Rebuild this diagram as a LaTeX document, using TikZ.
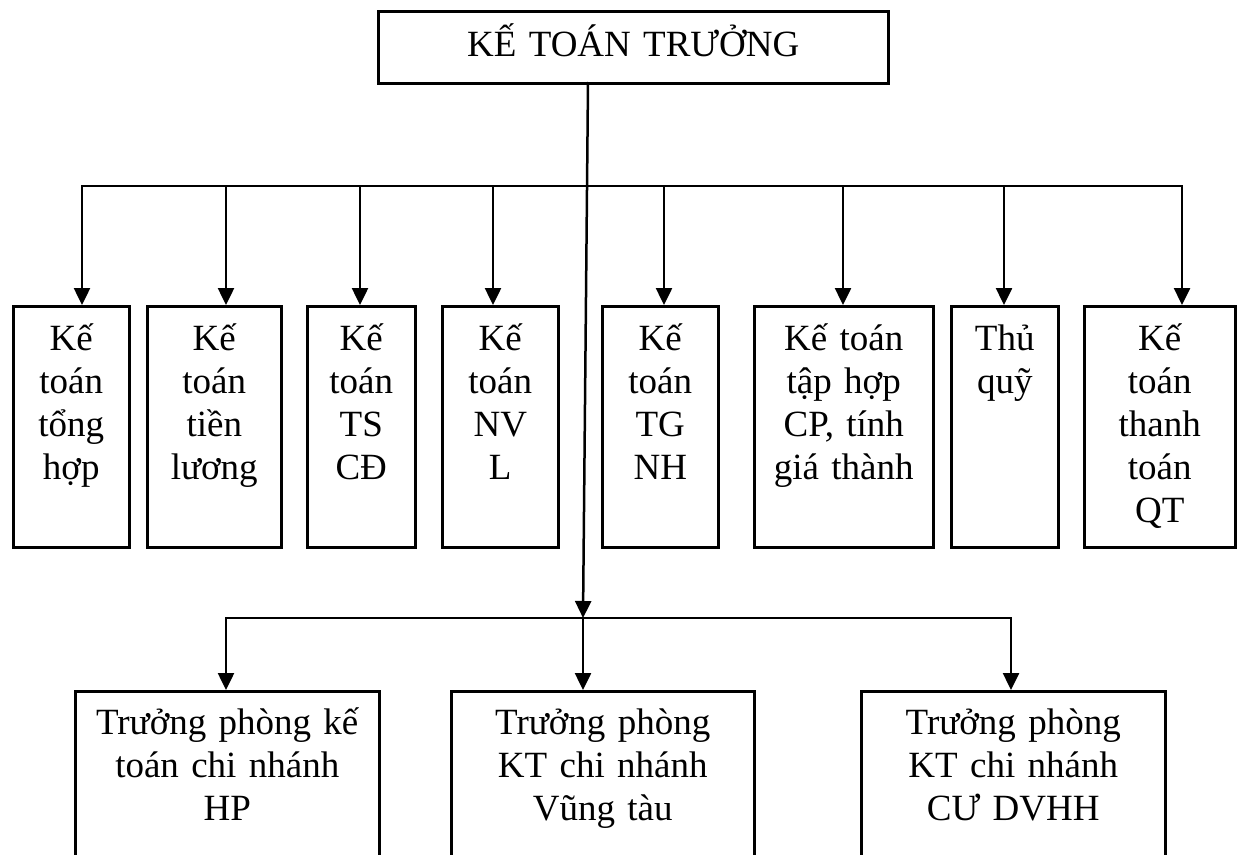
\documentclass[tikz,border=0pt]{standalone}
\usepackage{fontspec}
\setmainfont{Liberation Serif}
\usetikzlibrary{arrows.meta}

\begin{document}
\begin{tikzpicture}[x=1pt, y=-1pt,
  boxbase/.style={draw, line width=2.5pt, inner sep=0pt, anchor=north west,
    align=center, font=\fontsize{37pt}{43pt}\selectfont},
  colbox/.style={boxbase, text height=44pt, text depth=197pt},
  branchbox/.style={boxbase, text height=43pt, text depth=190pt},
  arr/.style={-{Triangle[width=16pt,length=17pt]}, line width=2.5pt},
  bus/.style={line width=2.5pt, line cap=rect}]

\useasboundingbox (0,0) rectangle (1238,854);

% chief accountant
\node[boxbase, text width=510pt, text height=45pt, text depth=27pt] (top) at (377,10) {KẾ TOÁN TRƯỞNG};

% accounting sections
\node[colbox, text width=116pt] (b1) at (12,305)   {Kế\\toán\\tổng\\hợp};
\node[colbox, text width=134pt] (b2) at (146,305)  {Kế\\toán\\tiền\\lương};
\node[colbox, text width=108pt] (b3) at (306,305)  {Kế\\toán\\TS\\CĐ};
\node[colbox, text width=116pt] (b4) at (441,305)  {Kế\\toán\\NV\\L};
\node[colbox, text width=116pt] (b5) at (601,305)  {Kế\\toán\\TG\\NH};
\node[colbox, text width=179pt] (b6) at (753,305)  {Kế toán\\tập hợp\\CP, tính\\giá thành};
\node[colbox, text width=107pt] (b7) at (950,305)  {Thủ\\quỹ};
\node[colbox, text width=151pt] (b8) at (1083,305) {Kế\\toán\\thanh\\toán\\QT};

% branch chiefs
\node[branchbox, text width=304pt] (bA) at (74,690)  {Trưởng phòng kế\\toán chi nhánh\\HP};
\node[branchbox, text width=303pt] (bB) at (450,690) {Trưởng phòng\\KT chi nhánh\\Vũng tàu};
\node[branchbox, text width=304pt] (bC) at (860,690) {Trưởng phòng\\KT chi nhánh\\CƯ DVHH};

% bus points
\coordinate (j1) at (82,186);
\coordinate (j2) at (226,186);
\coordinate (j3) at (360,186);
\coordinate (j4) at (493,186);
\coordinate (j5) at (664,186);
\coordinate (j6) at (843,186);
\coordinate (j7) at (1004,186);
\coordinate (j8) at (1182,186);
\coordinate (s) at (588,82);
\coordinate (m) at (583,618);
\coordinate (k1) at (226,618);
\coordinate (k3) at (1011,618);

% upper distribution
\draw[bus] (j1) -- (j8);
\foreach \i in {1,...,8} {
  \draw[arr] (j\i) -- (j\i |- b\i.north);
}

% main trunk down to the branch level
\draw[arr] (s) -- (m);

% lower distribution
\draw[bus] (k1) -- (k3);
\draw[arr] (k1) -- (k1 |- bA.north);
\draw[arr] (m) -- (m |- bB.north);
\draw[arr] (k3) -- (k3 |- bC.north);

\end{tikzpicture}
\end{document}
